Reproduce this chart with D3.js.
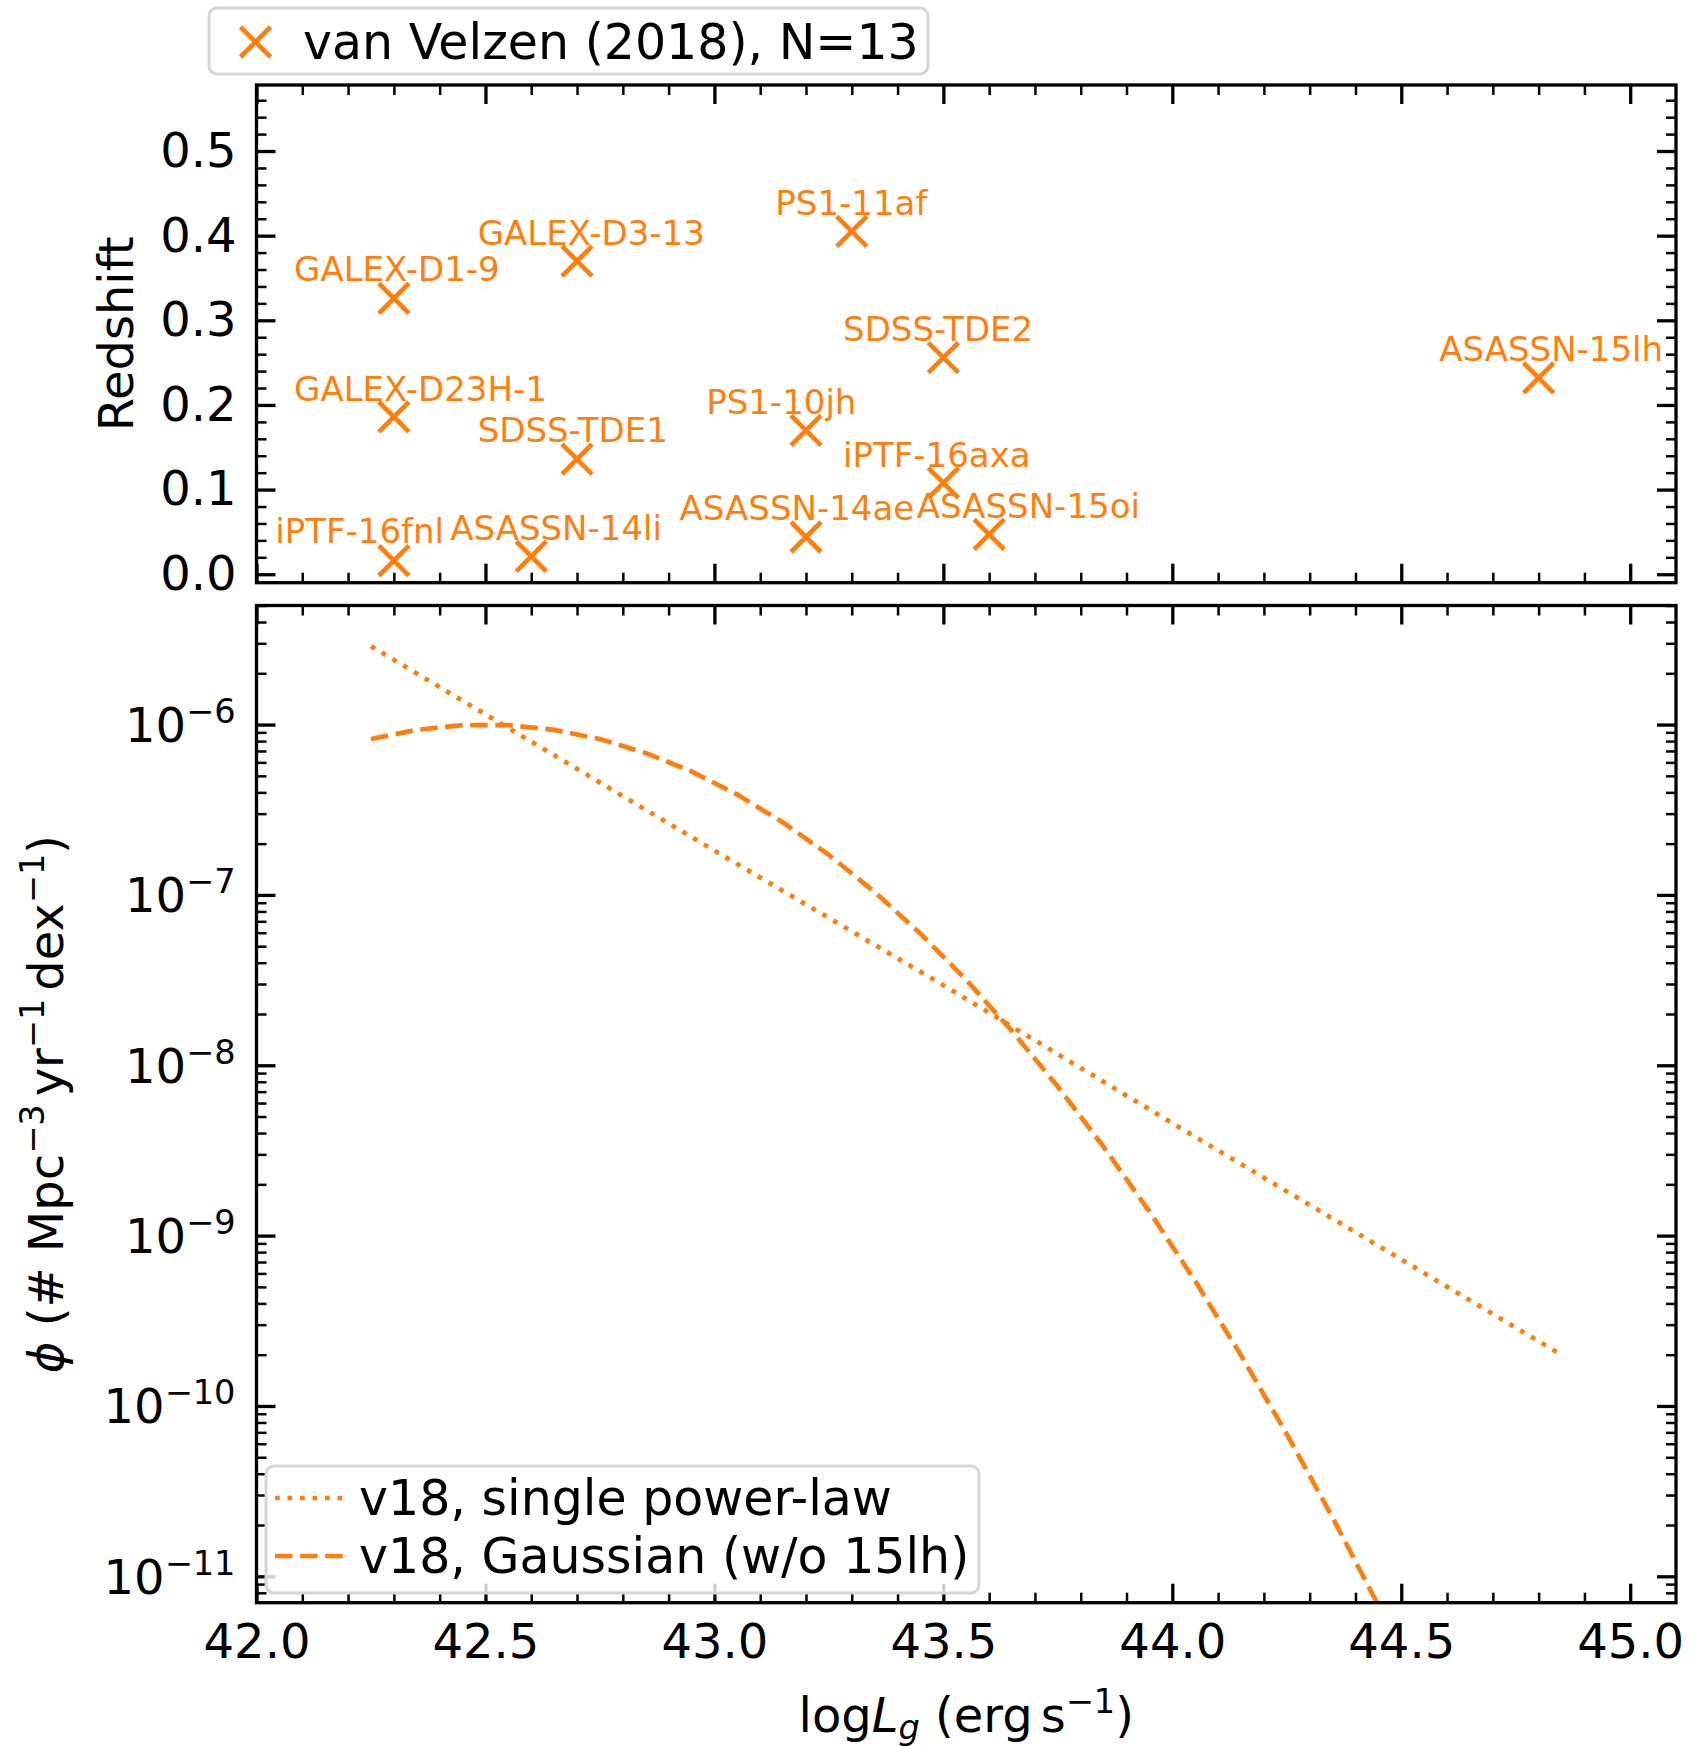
<!DOCTYPE html>
<html>
<head>
<meta charset="utf-8">
<script src="https://d3js.org/d3.v7.min.js"></script>
<style>
  body { margin: 0; background: #fff; }
  svg text { font-family: "DejaVu Sans", sans-serif; }
</style>
</head>
<body>
<svg id="fig" width="1690" height="1746"></svg>
<script>
// --- data ---
const tdeNames = ["iPTF-16fnl", "ASASSN-14li", "GALEX-D1-9", "GALEX-D23H-1", "GALEX-D3-13", "SDSS-TDE1",
                  "PS1-11af", "PS1-10jh", "ASASSN-14ae", "SDSS-TDE2", "iPTF-16axa", "ASASSN-15oi", "ASASSN-15lh"];
const tdeLogL = [42.3, 42.6, 42.3, 42.3, 42.7, 42.7, 43.3, 43.2, 43.2, 43.5, 43.5, 43.6, 44.8];
const tdeZ    = [0.016, 0.021, 0.326, 0.186, 0.370, 0.136, 0.405, 0.170, 0.044, 0.256, 0.108, 0.047, 0.232];
// where each name sits (left edge / baseline, data units)
const labelLogL = [42.041, 42.423, 42.082, 42.082, 42.483, 42.483, 43.133, 42.982, 42.924, 43.281, 43.281, 43.442, 44.583];
const labelZ    = [0.037, 0.040, 0.346, 0.205, 0.389, 0.156, 0.425, 0.189, 0.064, 0.275, 0.127, 0.067, 0.252];

const powerLawLogL   = [42.25, 42.5, 43.0, 43.5, 44.0, 44.5, 44.85];
const powerLawLogPhi = [-5.54, -5.94, -6.74, -7.53, -8.34, -9.14, -9.70];

const gaussLogL   = [42.25, 42.35, 42.45, 42.55, 42.65, 42.75, 42.85, 42.95, 43.05, 43.15, 43.25, 43.35,
                     43.45, 43.55, 43.65, 43.75, 43.85, 43.95, 44.05, 44.15, 44.25, 44.35, 44.45, 44.5];
const gaussLogPhi = [-6.085, -6.031, -6.003, -6.003, -6.031, -6.085, -6.167, -6.275, -6.411, -6.575, -6.765, -6.983,
                     -7.227, -7.499, -7.799, -8.125, -8.479, -8.859, -9.267, -9.703, -10.165, -10.655, -11.171, -11.44];

const xTicks   = [42.0, 42.5, 43.0, 43.5, 44.0, 44.5, 45.0];
const zTicks   = [0.0, 0.1, 0.2, 0.3, 0.4, 0.5];
const phiExps  = [-6, -7, -8, -9, -10, -11];

const orange = "#ff7f0e";

// --- layout ---
const svg = d3.select("#fig");
const L = 256.5, R = 1676;
const topA = 85, botA = 582.7, topB = 605.5, botB = 1602.7;

const x = d3.scaleLinear().domain([42.0, 45.1]).range([L, R]);
const yTop = d3.scaleLinear().domain([-0.01, 0.578]).range([botA, topA]);
const yBot = d3.scaleLog().domain([7e-12, 5e-6]).range([botB, topB]);

const xMinor = d3.range(42.1, 45.05, 0.1).filter(v => Math.abs(v * 2 - Math.round(v * 2)) > 1e-6);
const zMinor = d3.range(0.02, 0.57, 0.02).filter(v => Math.abs(v * 10 - Math.round(v * 10)) > 1e-6);
const phiMinor = [];
for (let e = -12; e <= -6; e++) for (let k = 2; k <= 9; k++) {
  const v = k * Math.pow(10, e);
  if (v > 7e-12 && v < 5e-6) phiMinor.push(v);
}

// inward ticks on all four sides
function ticks(axisFn, scale, values, size, w, tx, ty) {
  const g = svg.append("g").attr("transform", `translate(${tx},${ty})`)
    .call(axisFn(scale).tickValues(values).tickSize(-size).tickFormat(""));
  g.select(".domain").remove();
  g.selectAll("line").attr("stroke", "#000").attr("stroke-width", w);
}
function frameTicks(yScale, yMaj, yMin, t, b) {
  ticks(d3.axisBottom, x, xTicks, 19, 3.3, 0, b);
  ticks(d3.axisBottom, x, xMinor, 10, 2.5, 0, b);
  ticks(d3.axisTop, x, xTicks, 19, 3.3, 0, t);
  ticks(d3.axisTop, x, xMinor, 10, 2.5, 0, t);
  ticks(d3.axisLeft, yScale, yMaj, 19, 3.3, L, 0);
  ticks(d3.axisLeft, yScale, yMin, 10, 2.5, L, 0);
  ticks(d3.axisRight, yScale, yMaj, 19, 3.3, R, 0);
  ticks(d3.axisRight, yScale, yMin, 10, 2.5, R, 0);
}
frameTicks(yTop, zTicks, zMinor, topA, botA);
frameTicks(yBot, phiExps.map(e => Math.pow(10, e)), phiMinor, topB, botB);

// --- top panel: redshift vs luminosity ---
const xMark = "M-15,-15L15,15M-15,15L15,-15";
svg.append("g").selectAll("path").data(tdeNames).join("path")
  .attr("d", xMark)
  .attr("transform", (d, i) => `translate(${x(tdeLogL[i])},${yTop(tdeZ[i])})`)
  .attr("stroke", orange).attr("stroke-width", 4.7).attr("fill", "none");

svg.append("g").selectAll("text").data(tdeNames).join("text")
  .attr("x", (d, i) => x(labelLogL[i]))
  .attr("y", (d, i) => yTop(labelZ[i]))
  .attr("fill", orange).attr("font-size", 34)
  .text(d => d);

// --- bottom panel: luminosity functions ---
svg.append("clipPath").attr("id", "clipB").append("rect")
  .attr("x", L).attr("y", topB).attr("width", R - L).attr("height", botB - topB);

const line = d3.line().x(d => x(d[0])).y(d => yBot(Math.pow(10, d[1])));
svg.append("path")
  .datum(powerLawLogL.map((v, i) => [v, powerLawLogPhi[i]]))
  .attr("d", line).attr("clip-path", "url(#clipB)")
  .attr("fill", "none").attr("stroke", orange).attr("stroke-width", 4.7)
  .attr("stroke-dasharray", "4.7,7.8");
svg.append("path")
  .datum(gaussLogL.map((v, i) => [v, gaussLogPhi[i]]))
  .attr("d", line).attr("clip-path", "url(#clipB)")
  .attr("fill", "none").attr("stroke", orange).attr("stroke-width", 4.7)
  .attr("stroke-dasharray", "17.5,7.6");

// --- spines ---
[[topA, botA], [topB, botB]].forEach(([t, b]) => {
  svg.append("rect").attr("x", L).attr("y", t).attr("width", R - L).attr("height", b - t)
    .attr("fill", "none").attr("stroke", "#000").attr("stroke-width", 3.3);
});

// --- tick labels ---
const zAx = svg.append("g").attr("transform", `translate(${L},0)`)
  .call(d3.axisLeft(yTop).tickValues(zTicks).tickSize(0).tickPadding(20).tickFormat(d3.format(".1f")));
zAx.select(".domain").remove();
zAx.attr("font-size", 48).attr("font-family", "DejaVu Sans");

const xAx = svg.append("g").attr("transform", `translate(0,${botB})`)
  .call(d3.axisBottom(x).tickValues(xTicks).tickSize(0).tickPadding(21).tickFormat(d3.format(".1f")));
xAx.select(".domain").remove();
xAx.attr("font-size", 48).attr("font-family", "DejaVu Sans");

const phiLab = svg.append("g").selectAll("text").data(phiExps).join("text")
  .attr("x", L - 21).attr("y", d => yBot(Math.pow(10, d)) + 17.5)
  .attr("text-anchor", "end").attr("font-size", 48);
phiLab.append("tspan").text("10");
phiLab.append("tspan").attr("dy", -19).attr("font-size", 33.6).text(d => "\u2212" + Math.abs(d));

// --- axis labels ---
svg.append("text")
  .attr("transform", `translate(132.7,${(topA + botA) / 2}) rotate(-90)`)
  .attr("text-anchor", "middle").attr("font-size", 48).text("Redshift");

const yl = svg.append("text")
  .attr("transform", `translate(63,${(topB + botB) / 2}) rotate(-90)`)
  .attr("text-anchor", "middle").attr("font-size", 48);
yl.append("tspan").attr("font-style", "italic").text("\u03d5");
yl.append("tspan").text(" (# Mpc");
yl.append("tspan").attr("dy", -19).attr("font-size", 33.6).text("\u22123");
yl.append("tspan").attr("dy", 19).attr("dx", 8).text("yr");
yl.append("tspan").attr("dy", -19).attr("font-size", 33.6).text("\u22121");
yl.append("tspan").attr("dy", 19).attr("dx", 8).text("dex");
yl.append("tspan").attr("dy", -19).attr("font-size", 33.6).text("\u22121");
yl.append("tspan").attr("dy", 19).text(")");

const xl = svg.append("text")
  .attr("x", (L + R) / 2).attr("y", 1732)
  .attr("text-anchor", "middle").attr("font-size", 48);
xl.append("tspan").text("log");
xl.append("tspan").attr("font-style", "italic").text("L");
xl.append("tspan").attr("font-style", "italic").attr("font-size", 33.6).attr("dy", 7).text("g");
xl.append("tspan").attr("dy", -7).text(" (erg");
xl.append("tspan").attr("dx", 8).text("s");
xl.append("tspan").attr("dy", -19).attr("font-size", 33.6).text("\u22121");
xl.append("tspan").attr("dy", 19).text(")");

// --- legends ---
function legendBox(x0, y0, w, h) {
  svg.append("rect").attr("x", x0).attr("y", y0).attr("width", w).attr("height", h)
    .attr("rx", 8).attr("fill", "#fff").attr("fill-opacity", 0.8)
    .attr("stroke", "#d6d6d6").attr("stroke-width", 3);
}
legendBox(209, 8, 719, 66);
svg.append("path").attr("d", xMark).attr("transform", "translate(255.5,42)")
  .attr("stroke", orange).attr("stroke-width", 4.7).attr("fill", "none");
svg.append("text").attr("x", 303).attr("y", 59).attr("font-size", 49).text("van Velzen (2018), N=13");

legendBox(266, 1466, 713, 127);
const lgItems = [
  {label: "v18, single power-law", dash: "4.7,7.8"},
  {label: "v18, Gaussian (w/o 15lh)", dash: "17.5,7.6"}
];
lgItems.forEach((it, i) => {
  const yy = 1498 + i * 58;
  svg.append("line").attr("x1", 275).attr("x2", 347).attr("y1", yy).attr("y2", yy)
    .attr("stroke", orange).attr("stroke-width", 4.7).attr("stroke-dasharray", it.dash);
  svg.append("text").attr("x", 359).attr("y", yy + 17).attr("font-size", 49).text(it.label);
});
</script>
</body>
</html>
